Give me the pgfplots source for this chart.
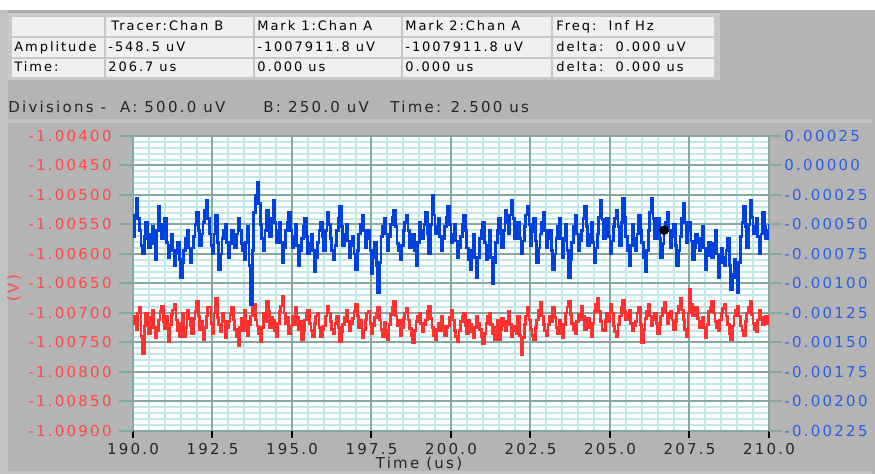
\documentclass[border=0pt]{standalone}
\usepackage{fontspec}
\setmainfont{DejaVu Sans}
\newfontfamily\lsfont{DejaVu Sans}[LetterSpace=15]
\usepackage{pgfplots}
\pgfplotsset{compat=1.18}
\usepackage{pgfplotstable}
\definecolor{bg}{HTML}{B4B4B4}
\definecolor{bgl}{HTML}{C2C2C2}
\definecolor{redline}{HTML}{FF3030}
\definecolor{blueline}{HTML}{0040DC}
\definecolor{redlab}{HTML}{FF4848}
\definecolor{bluelab}{HTML}{2A5FE0}
\definecolor{gridmajor}{HTML}{86A8A2}
\definecolor{gridminor}{HTML}{C2E8EA}
\definecolor{cell}{HTML}{F0F0F0}
\definecolor{cellsep}{HTML}{C8C8C8}
\newcommand\tickf{\lsfont\fontsize{7.5}{9}\selectfont}
\newcommand\tabf{\lsfont\fontsize{6.5}{8}\selectfont}

% Chan A (left axis, V)
\pgfplotstableread{
t v
190.00 -1.00705
190.05 -1.00718
190.10 -1.00728
190.15 -1.00700
190.20 -1.00690
190.25 -1.00740
190.30 -1.00768
190.35 -1.00722
190.40 -1.00700
190.45 -1.00712
190.50 -1.00735
190.55 -1.00708
190.60 -1.00695
190.65 -1.00725
190.70 -1.00742
190.75 -1.00730
190.80 -1.00712
190.85 -1.00698
190.90 -1.00688
190.95 -1.00715
191.00 -1.00726
191.05 -1.00705
191.10 -1.00748
191.15 -1.00720
191.20 -1.00702
191.25 -1.00695
191.30 -1.00685
191.35 -1.00712
191.40 -1.00730
191.45 -1.00740
191.50 -1.00718
191.55 -1.00700
191.60 -1.00740
191.65 -1.00725
191.70 -1.00695
191.75 -1.00710
191.80 -1.00722
191.85 -1.00735
191.90 -1.00710
191.95 -1.00698
192.00 -1.00680
192.05 -1.00705
192.10 -1.00728
192.15 -1.00715
192.20 -1.00745
192.25 -1.00725
192.30 -1.00705
192.35 -1.00690
192.40 -1.00690
192.45 -1.00718
192.50 -1.00735
192.55 -1.00700
192.60 -1.00676
192.65 -1.00708
192.70 -1.00720
192.75 -1.00732
192.80 -1.00700
192.85 -1.00715
192.90 -1.00742
192.95 -1.00725
193.00 -1.00715
193.05 -1.00702
193.10 -1.00690
193.15 -1.00712
193.20 -1.00728
193.25 -1.00740
193.30 -1.00755
193.35 -1.00725
193.40 -1.00710
193.45 -1.00730
193.50 -1.00695
193.55 -1.00715
193.60 -1.00738
193.65 -1.00720
193.70 -1.00705
193.75 -1.00690
193.80 -1.00685
193.85 -1.00712
193.90 -1.00722
193.95 -1.00735
194.00 -1.00748
194.05 -1.00725
194.10 -1.00700
194.15 -1.00715
194.20 -1.00680
194.25 -1.00698
194.30 -1.00725
194.35 -1.00708
194.40 -1.00712
194.45 -1.00730
194.50 -1.00740
194.55 -1.00718
194.60 -1.00698
194.65 -1.00688
194.70 -1.00672
194.75 -1.00700
194.80 -1.00718
194.85 -1.00708
194.90 -1.00735
194.95 -1.00722
195.00 -1.00705
195.05 -1.00720
195.10 -1.00690
195.15 -1.00708
195.20 -1.00728
195.25 -1.00715
195.30 -1.00745
195.35 -1.00730
195.40 -1.00712
195.45 -1.00700
195.50 -1.00695
195.55 -1.00718
195.60 -1.00730
195.65 -1.00740
195.70 -1.00718
195.75 -1.00705
195.80 -1.00700
195.85 -1.00725
195.90 -1.00740
195.95 -1.00728
196.00 -1.00722
196.05 -1.00705
196.10 -1.00688
196.15 -1.00700
196.20 -1.00715
196.25 -1.00728
196.30 -1.00735
196.35 -1.00718
196.40 -1.00705
196.45 -1.00725
196.50 -1.00748
196.55 -1.00732
196.60 -1.00720
196.65 -1.00708
196.70 -1.00695
196.75 -1.00715
196.80 -1.00730
196.85 -1.00718
196.90 -1.00710
196.95 -1.00698
197.00 -1.00685
197.05 -1.00705
197.10 -1.00725
197.15 -1.00712
197.20 -1.00742
197.25 -1.00728
197.30 -1.00712
197.35 -1.00700
197.40 -1.00698
197.45 -1.00718
197.50 -1.00735
197.55 -1.00722
197.60 -1.00708
197.65 -1.00700
197.70 -1.00690
197.75 -1.00712
197.80 -1.00728
197.85 -1.00740
197.90 -1.00716
197.95 -1.00730
198.00 -1.00745
198.05 -1.00720
198.10 -1.00702
198.15 -1.00690
198.20 -1.00680
198.25 -1.00705
198.30 -1.00722
198.35 -1.00712
198.40 -1.00738
198.45 -1.00725
198.50 -1.00710
198.55 -1.00700
198.60 -1.00693
198.65 -1.00712
198.70 -1.00726
198.75 -1.00738
198.80 -1.00750
198.85 -1.00730
198.90 -1.00715
198.95 -1.00705
199.00 -1.00700
199.05 -1.00718
199.10 -1.00732
199.15 -1.00720
199.20 -1.00712
199.25 -1.00698
199.30 -1.00688
199.35 -1.00710
199.40 -1.00725
199.45 -1.00738
199.50 -1.00745
199.55 -1.00728
199.60 -1.00718
199.65 -1.00730
199.70 -1.00705
199.75 -1.00722
199.80 -1.00738
199.85 -1.00725
199.90 -1.00722
199.95 -1.00708
200.00 -1.00695
200.05 -1.00712
200.10 -1.00730
200.15 -1.00740
200.20 -1.00748
200.25 -1.00730
200.30 -1.00715
200.35 -1.00705
200.40 -1.00700
200.45 -1.00722
200.50 -1.00735
200.55 -1.00712
200.60 -1.00720
200.65 -1.00732
200.70 -1.00742
200.75 -1.00725
200.80 -1.00706
200.85 -1.00718
200.90 -1.00728
200.95 -1.00740
201.00 -1.00752
201.05 -1.00735
201.10 -1.00718
201.15 -1.00705
201.20 -1.00700
201.25 -1.00720
201.30 -1.00735
201.35 -1.00745
201.40 -1.00724
201.45 -1.00712
201.50 -1.00745
201.55 -1.00728
201.60 -1.00710
201.65 -1.00722
201.70 -1.00730
201.75 -1.00715
201.80 -1.00698
201.85 -1.00720
201.90 -1.00740
201.95 -1.00730
202.00 -1.00722
202.05 -1.00735
202.10 -1.00705
202.15 -1.00738
202.20 -1.00770
202.25 -1.00742
202.30 -1.00720
202.35 -1.00705
202.40 -1.00690
202.45 -1.00712
202.50 -1.00728
202.55 -1.00738
202.60 -1.00745
202.65 -1.00725
202.70 -1.00712
202.75 -1.00695
202.80 -1.00682
202.85 -1.00705
202.90 -1.00720
202.95 -1.00730
203.00 -1.00738
203.05 -1.00720
203.10 -1.00705
203.15 -1.00715
203.20 -1.00690
203.25 -1.00708
203.30 -1.00725
203.35 -1.00735
203.40 -1.00712
203.45 -1.00728
203.50 -1.00742
203.55 -1.00720
203.60 -1.00700
203.65 -1.00690
203.70 -1.00680
203.75 -1.00702
203.80 -1.00718
203.85 -1.00728
203.90 -1.00735
203.95 -1.00715
204.00 -1.00702
204.05 -1.00712
204.10 -1.00688
204.15 -1.00705
204.20 -1.00728
204.25 -1.00718
204.30 -1.00710
204.35 -1.00725
204.40 -1.00740
204.45 -1.00718
204.50 -1.00698
204.55 -1.00685
204.60 -1.00675
204.65 -1.00698
204.70 -1.00715
204.75 -1.00728
204.80 -1.00730
204.85 -1.00712
204.90 -1.00700
204.95 -1.00715
205.00 -1.00685
205.05 -1.00700
205.10 -1.00722
205.15 -1.00732
205.20 -1.00740
205.25 -1.00720
205.30 -1.00705
205.35 -1.00690
205.40 -1.00678
205.45 -1.00698
205.50 -1.00712
205.55 -1.00702
205.60 -1.00695
205.65 -1.00718
205.70 -1.00730
205.75 -1.00722
205.80 -1.00715
205.85 -1.00700
205.90 -1.00690
205.95 -1.00720
206.00 -1.00750
206.05 -1.00728
206.10 -1.00710
206.15 -1.00698
206.20 -1.00685
206.25 -1.00705
206.30 -1.00722
206.35 -1.00712
206.40 -1.00700
206.45 -1.00718
206.50 -1.00735
206.55 -1.00720
206.60 -1.00705
206.65 -1.00692
206.70 -1.00682
206.75 -1.00700
206.80 -1.00718
206.85 -1.00708
206.90 -1.00698
206.95 -1.00712
207.00 -1.00728
207.05 -1.00715
207.10 -1.00700
207.15 -1.00688
207.20 -1.00675
207.25 -1.00695
207.30 -1.00712
207.35 -1.00728
207.40 -1.00740
207.45 -1.00700
207.50 -1.00660
207.55 -1.00685
207.60 -1.00705
207.65 -1.00698
207.70 -1.00690
207.75 -1.00710
207.80 -1.00725
207.85 -1.00715
207.90 -1.00708
207.95 -1.00725
208.00 -1.00742
208.05 -1.00720
208.10 -1.00698
208.15 -1.00690
208.20 -1.00680
208.25 -1.00700
208.30 -1.00715
208.35 -1.00725
208.40 -1.00730
208.45 -1.00712
208.50 -1.00700
208.55 -1.00692
208.60 -1.00686
208.65 -1.00705
208.70 -1.00720
208.75 -1.00735
208.80 -1.00745
208.85 -1.00722
208.90 -1.00705
208.95 -1.00695
209.00 -1.00688
209.05 -1.00705
209.10 -1.00722
209.15 -1.00730
209.20 -1.00738
209.25 -1.00715
209.30 -1.00700
209.35 -1.00690
209.40 -1.00680
209.45 -1.00702
209.50 -1.00718
209.55 -1.00728
209.60 -1.00732
209.65 -1.00712
209.70 -1.00695
209.75 -1.00708
209.80 -1.00720
209.85 -1.00712
209.90 -1.00705
209.95 -1.00718
210.00 -1.00712
}\chanA

% Chan B (right axis, V)
\pgfplotstableread{
t v
190.00 -0.00060
190.05 -0.00042
190.10 -0.00028
190.15 -0.00045
190.20 -0.00055
190.25 -0.00068
190.30 -0.00075
190.35 -0.00060
190.40 -0.00048
190.45 -0.00062
190.50 -0.00070
190.55 -0.00058
190.60 -0.00052
190.65 -0.00066
190.70 -0.00080
190.75 -0.00055
190.80 -0.00035
190.85 -0.00050
190.90 -0.00062
190.95 -0.00052
191.00 -0.00045
191.05 -0.00065
191.10 -0.00078
191.15 -0.00068
191.20 -0.00058
191.25 -0.00072
191.30 -0.00085
191.35 -0.00075
191.40 -0.00065
191.45 -0.00080
191.50 -0.00095
191.55 -0.00082
191.60 -0.00072
191.65 -0.00062
191.70 -0.00055
191.75 -0.00070
191.80 -0.00082
191.85 -0.00070
191.90 -0.00060
191.95 -0.00050
192.00 -0.00040
192.05 -0.00055
192.10 -0.00068
192.15 -0.00058
192.20 -0.00048
192.25 -0.00038
192.30 -0.00030
192.35 -0.00045
192.40 -0.00058
192.45 -0.00068
192.50 -0.00075
192.55 -0.00058
192.60 -0.00042
192.65 -0.00065
192.70 -0.00088
192.75 -0.00075
192.80 -0.00062
192.85 -0.00055
192.90 -0.00050
192.95 -0.00065
193.00 -0.00078
193.05 -0.00066
193.10 -0.00055
193.15 -0.00062
193.20 -0.00070
193.25 -0.00058
193.30 -0.00045
193.35 -0.00055
193.40 -0.00066
193.45 -0.00072
193.50 -0.00080
193.55 -0.00065
193.60 -0.00052
193.65 -0.00085
193.70 -0.00118
193.75 -0.00072
193.80 -0.00040
193.85 -0.00025
193.90 -0.00014
193.95 -0.00032
194.00 -0.00050
194.05 -0.00062
194.10 -0.00072
194.15 -0.00055
194.20 -0.00038
194.25 -0.00048
194.30 -0.00060
194.35 -0.00045
194.40 -0.00030
194.45 -0.00048
194.50 -0.00065
194.55 -0.00055
194.60 -0.00048
194.65 -0.00065
194.70 -0.00082
194.75 -0.00070
194.80 -0.00055
194.85 -0.00048
194.90 -0.00040
194.95 -0.00055
195.00 -0.00070
195.05 -0.00060
195.10 -0.00050
195.15 -0.00068
195.20 -0.00085
195.25 -0.00072
195.30 -0.00062
195.35 -0.00052
195.40 -0.00045
195.45 -0.00060
195.50 -0.00075
195.55 -0.00066
195.60 -0.00058
195.65 -0.00072
195.70 -0.00090
195.75 -0.00078
195.80 -0.00065
195.85 -0.00055
195.90 -0.00048
195.95 -0.00060
196.00 -0.00072
196.05 -0.00055
196.10 -0.00040
196.15 -0.00050
196.20 -0.00062
196.25 -0.00072
196.30 -0.00080
196.35 -0.00068
196.40 -0.00055
196.45 -0.00045
196.50 -0.00035
196.55 -0.00052
196.60 -0.00068
196.65 -0.00058
196.70 -0.00050
196.75 -0.00064
196.80 -0.00078
196.85 -0.00068
196.90 -0.00060
196.95 -0.00075
197.00 -0.00088
197.05 -0.00072
197.10 -0.00058
197.15 -0.00050
197.20 -0.00042
197.25 -0.00055
197.30 -0.00070
197.35 -0.00062
197.40 -0.00055
197.45 -0.00072
197.50 -0.00092
197.55 -0.00078
197.60 -0.00065
197.65 -0.00085
197.70 -0.00108
197.75 -0.00082
197.80 -0.00060
197.85 -0.00052
197.90 -0.00045
197.95 -0.00058
198.00 -0.00072
198.05 -0.00060
198.10 -0.00050
198.15 -0.00044
198.20 -0.00038
198.25 -0.00052
198.30 -0.00066
198.35 -0.00072
198.40 -0.00080
198.45 -0.00068
198.50 -0.00055
198.55 -0.00048
198.60 -0.00042
198.65 -0.00055
198.70 -0.00070
198.75 -0.00064
198.80 -0.00058
198.85 -0.00072
198.90 -0.00085
198.95 -0.00065
199.00 -0.00048
199.05 -0.00055
199.10 -0.00062
199.15 -0.00050
199.20 -0.00040
199.25 -0.00058
199.30 -0.00075
199.35 -0.00050
199.40 -0.00025
199.45 -0.00042
199.50 -0.00058
199.55 -0.00052
199.60 -0.00045
199.65 -0.00060
199.70 -0.00072
199.75 -0.00062
199.80 -0.00052
199.85 -0.00044
199.90 -0.00035
199.95 -0.00050
200.00 -0.00065
200.05 -0.00058
200.10 -0.00050
200.15 -0.00064
200.20 -0.00078
200.25 -0.00070
200.30 -0.00060
200.35 -0.00050
200.40 -0.00042
200.45 -0.00055
200.50 -0.00070
200.55 -0.00080
200.60 -0.00088
200.65 -0.00072
200.70 -0.00058
200.75 -0.00078
200.80 -0.00095
200.85 -0.00078
200.90 -0.00062
200.95 -0.00055
201.00 -0.00048
201.05 -0.00065
201.10 -0.00080
201.15 -0.00068
201.20 -0.00055
201.25 -0.00078
201.30 -0.00100
201.35 -0.00082
201.40 -0.00065
201.45 -0.00055
201.50 -0.00045
201.55 -0.00058
201.60 -0.00070
201.65 -0.00055
201.70 -0.00038
201.75 -0.00048
201.80 -0.00058
201.85 -0.00042
201.90 -0.00030
201.95 -0.00045
202.00 -0.00062
202.05 -0.00055
202.10 -0.00048
202.15 -0.00062
202.20 -0.00075
202.25 -0.00064
202.30 -0.00052
202.35 -0.00042
202.40 -0.00035
202.45 -0.00050
202.50 -0.00068
202.55 -0.00056
202.60 -0.00045
202.65 -0.00064
202.70 -0.00082
202.75 -0.00070
202.80 -0.00058
202.85 -0.00048
202.90 -0.00040
202.95 -0.00055
203.00 -0.00070
203.05 -0.00062
203.10 -0.00055
203.15 -0.00072
203.20 -0.00088
203.25 -0.00075
203.30 -0.00062
203.35 -0.00052
203.40 -0.00045
203.45 -0.00062
203.50 -0.00078
203.55 -0.00064
203.60 -0.00050
203.65 -0.00072
203.70 -0.00095
203.75 -0.00080
203.80 -0.00065
203.85 -0.00052
203.90 -0.00042
203.95 -0.00058
204.00 -0.00072
204.05 -0.00064
204.10 -0.00055
204.15 -0.00045
204.20 -0.00035
204.25 -0.00052
204.30 -0.00068
204.35 -0.00058
204.40 -0.00048
204.45 -0.00065
204.50 -0.00082
204.55 -0.00070
204.60 -0.00058
204.65 -0.00044
204.70 -0.00030
204.75 -0.00046
204.80 -0.00062
204.85 -0.00052
204.90 -0.00045
204.95 -0.00060
205.00 -0.00075
205.05 -0.00064
205.10 -0.00052
205.15 -0.00045
205.20 -0.00038
205.25 -0.00052
205.30 -0.00068
205.35 -0.00048
205.40 -0.00028
205.45 -0.00044
205.50 -0.00060
205.55 -0.00072
205.60 -0.00085
205.65 -0.00068
205.70 -0.00050
205.75 -0.00062
205.80 -0.00072
205.85 -0.00058
205.90 -0.00042
205.95 -0.00055
206.00 -0.00065
206.05 -0.00078
206.10 -0.00090
206.15 -0.00072
206.20 -0.00055
206.25 -0.00040
206.30 -0.00028
206.35 -0.00045
206.40 -0.00062
206.45 -0.00052
206.50 -0.00045
206.55 -0.00062
206.60 -0.00078
206.65 -0.00066
206.70 -0.00055
206.75 -0.00048
206.80 -0.00040
206.85 -0.00055
206.90 -0.00070
206.95 -0.00060
207.00 -0.00050
207.05 -0.00068
207.10 -0.00085
207.15 -0.00072
207.20 -0.00060
207.25 -0.00045
207.30 -0.00032
207.35 -0.00048
207.40 -0.00065
207.45 -0.00055
207.50 -0.00048
207.55 -0.00064
207.60 -0.00080
207.65 -0.00070
207.70 -0.00058
207.75 -0.00065
207.80 -0.00072
207.85 -0.00062
207.90 -0.00052
207.95 -0.00070
208.00 -0.00088
208.05 -0.00076
208.10 -0.00065
208.15 -0.00072
208.20 -0.00078
208.25 -0.00066
208.30 -0.00055
208.35 -0.00075
208.40 -0.00095
208.45 -0.00082
208.50 -0.00070
208.55 -0.00078
208.60 -0.00085
208.65 -0.00072
208.70 -0.00062
208.75 -0.00085
208.80 -0.00105
208.85 -0.00092
208.90 -0.00080
208.95 -0.00095
209.00 -0.00108
209.05 -0.00082
209.10 -0.00060
209.15 -0.00048
209.20 -0.00035
209.25 -0.00052
209.30 -0.00070
209.35 -0.00050
209.40 -0.00030
209.45 -0.00044
209.50 -0.00058
209.55 -0.00052
209.60 -0.00045
209.65 -0.00060
209.70 -0.00075
209.75 -0.00058
209.80 -0.00040
209.85 -0.00052
209.90 -0.00062
209.95 -0.00055
210.00 -0.00050
}\chanB

\pgfplotsset{
  scopebox/.style={at={(66.5pt,21.5pt)}, anchor=south west,
    scale only axis, width=318pt, height=147.5pt, xmin=190, xmax=210},
}

\begin{document}
\begin{tikzpicture}
\useasboundingbox (0,0) rectangle (437.5pt,237pt);
\fill[bg] (0,0) rectangle (437.5pt,237pt);
\begin{scope}[x=0.5pt,y=-0.5pt,yshift=237pt]
  \fill[white] (0,0) rectangle (875,10);
  \fill[bgl] (0,10) rectangle (8,474);
  \fill[bgl] (8,119) rectangle (872,123);
  \fill[bgl] (8,471) rectangle (872,474);
  \fill[cellsep] (8,12) rectangle (720,80);
  \draw[black!35, line width=1pt] (8,12.5) -- (720,12.5);
  \foreach \xa/\xb in {12/104,106/253,255/401,403/551,553/714}{
    \foreach \ya/\yb in {17/36,38/57,59/77}{
      \fill[cell] (\xa,\ya) rectangle (\xb,\yb);
    }
  }
  \begin{scope}[every node/.style={anchor=base west, inner sep=0pt, font=\tabf, text=black}]
    \node at (111,31) {Tracer:Chan B};
    \node at (257,31) {Mark 1:Chan A};
    \node at (405,31) {Mark 2:Chan A};
    \node at (556,31) {Freq:\ \ Inf\ Hz};
    \node at (14,52) {Amplitude};
    \node at (108,52) {-548.5 uV};
    \node at (257,52) {-1007911.8 uV};
    \node at (405,52) {-1007911.8 uV};
    \node at (556,52) {delta:\ \ 0.000 uV};
    \node at (14,72) {Time:};
    \node at (108,72) {206.7 us};
    \node at (257,72) {0.000 us};
    \node at (405,72) {0.000 us};
    \node at (556,72) {delta:\ \ 0.000 us};
  \end{scope}
  \begin{scope}[every node/.style={anchor=base west, inner sep=0pt, font=\tickf, text=black!85}]
    \node at (8,113) {Divisions -\ \ A: 500.0 uV};
    \node at (263,113) {B: 250.0 uV};
    \node at (390,113) {Time: 2.500 us};
  \end{scope}
  \node[rotate=90, font=\tickf, text=redlab, inner sep=0pt] at (14,288) {(V)};
  \node[font=\tickf, text=black!85, inner sep=0pt, anchor=base] at (419,469) {Time (us)};
\end{scope}

% layer 1: white background and minor grid
\begin{axis}[
  scopebox, ymin=-1.009, ymax=-1.004,
  axis background/.style={fill=white},
  axis line style={draw=none},
  xtick={190,192.5,195,197.5,200,202.5,205,207.5,210},
  ytick={-1.009,-1.0085,-1.008,-1.0075,-1.007,-1.0065,-1.006,-1.0055,-1.005,-1.0045,-1.004},
  xticklabels={}, yticklabels={},
  minor x tick num=4, minor y tick num=4,
  grid=minor,
  minor grid style={color=gridminor, line width=1pt},
  tick style={draw=none},
]
\end{axis}

% layer 2: major grid, x ticks, red trace
\begin{axis}[
  scopebox, ymin=-1.009, ymax=-1.004,
  axis line style={draw=none},
  xtick={190,192.5,195,197.5,200,202.5,205,207.5,210},
  xticklabels={190.0,192.5,195.0,197.5,200.0,202.5,205.0,207.5,210.0},
  ytick={-1.009,-1.0085,-1.008,-1.0075,-1.007,-1.0065,-1.006,-1.0055,-1.005,-1.0045,-1.004},
  yticklabels={},
  minor tick num=0,
  grid=major,
  major grid style={color=gridmajor, line width=1pt},
  xtick pos=bottom, ytick pos=left,
  tick align=outside, major tick length=3.5pt,
  tick style={black, line width=1pt},
  x tick label style={font=\tickf, text=black!85, inner sep=1pt, yshift=-1.5pt},
]
\addplot[redline, line width=1.4pt, const plot] table[x=t, y=v] {\chanA};
\end{axis}

% layer 3: left dashes and labels
\begin{axis}[
  scopebox, ymin=-1.009, ymax=-1.004,
  hide x axis, axis y line*=left,
  axis line style={draw=none},
  ytick={-1.009,-1.0085,-1.008,-1.0075,-1.007,-1.0065,-1.006,-1.0055,-1.005,-1.0045,-1.004},
  yticklabels={-1.00900,-1.00850,-1.00800,-1.00750,-1.00700,-1.00650,-1.00600,-1.00550,-1.00500,-1.00450,-1.00400},
  minor tick num=0,
  tick align=outside, major tick length=7pt,
  tick style={gridmajor, line width=1pt},
  y tick label style={font=\tickf, text=redlab, inner sep=1pt, xshift=-2.5pt},
]
\end{axis}

% layer 4: right axis, blue trace
\begin{axis}[
  scopebox, ymin=-0.00225, ymax=0.00025,
  hide x axis, axis y line*=right,
  axis line style={draw=none},
  scaled y ticks=false,
  ytick={-0.00225,-0.002,-0.00175,-0.0015,-0.00125,-0.001,-0.00075,-0.0005,-0.00025,0,0.00025},
  yticklabels={-0.00225,-0.00200,-0.00175,-0.00150,-0.00125,-0.00100,-0.00075,-0.00050,-0.00025,0.00000,0.00025},
  minor tick num=0,
  tick align=outside, major tick length=6.5pt,
  tick style={gridmajor, line width=1pt},
  y tick label style={font=\tickf, text=bluelab, inner sep=1pt},
  clip=true,
]
\addplot[blueline, line width=1.4pt, const plot] table[x=t, y=v] {\chanB};
\addplot[only marks, mark=*, mark size=2.2pt, black] coordinates {(206.7,-0.0005485)};
\end{axis}
\end{tikzpicture}
\end{document}
